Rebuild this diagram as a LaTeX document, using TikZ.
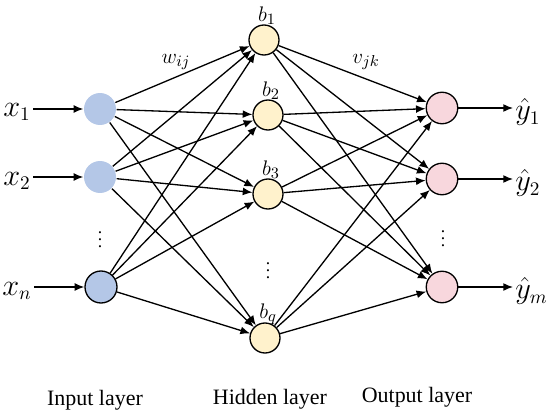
\documentclass[tikz,border=0pt]{standalone}
\usepackage{fontspec}
\setmainfont{Liberation Serif}
\usetikzlibrary{arrows.meta}
\definecolor{inblue}{RGB}{180,199,231}
\definecolor{hidyellow}{RGB}{255,242,204}
\definecolor{outpink}{RGB}{248,215,221}

\begin{document}
\begin{tikzpicture}[x=0.02cm, y=-0.02cm, >={Latex[length=5.5pt,width=4.5pt]}, line width=0.75pt,
  inp/.style={circle, fill=inblue, minimum size=0.64cm, inner sep=0pt},
  hid/.style={circle, draw, fill=hidyellow, minimum size=0.6cm, inner sep=0pt},
  outp/.style={circle, draw, fill=outpink, minimum size=0.63cm, inner sep=0pt},
  biglbl/.style={inner sep=1pt, font=\fontsize{16}{19}\selectfont},
  smalllbl/.style={inner sep=0pt, font=\fontsize{12.5}{15}\selectfont},
  layerlbl/.style={font=\fontsize{12.5}{15}\selectfont}]
  \useasboundingbox (0,0) rectangle (550,415);
  % input layer
  \node[inp] (i1) at (100,109) {};
  \node[inp] (i2) at (100,177) {};
  \node[inp, draw] (i3) at (101,287) {};
  \node (idots) at (100,234) {$\vdots$};
  \foreach \i/\y/\t in {1/112/1,2/181/2,3/291/n} {
    \node[biglbl] (x\i) at (17,\y) {$x_{\t}$};
    \draw[->] (x\i.east |- i\i) -- (i\i);
  }
  % hidden layer
  \foreach \j/\x/\y/\t in {1/264/40/1,2/268/115/2,3/268/194/3,4/265/338/q} {
    \node[hid] (h\j) at (\x,\y) {};
    \node[smalllbl] (b\j) at (\x+3,\y-24) {$b_{\t}$};
  }
  \node (hdots) at (268,265) {$\vdots$};
  % output layer
  \node[outp] (o1) at (442,108) {};
  \node[outp] (o2) at (442,179) {};
  \node[outp] (o3) at (442,287) {};
  \node (odots) at (443,233) {$\vdots$};
  \foreach \k/\y/\t in {1/112/1,2/183/2,3/291/m} {
    \node[biglbl, anchor=west] (y\k) at (513,\y) {$\hat{y}_{\t}$};
    \draw[->] (o\k) -- (y\k.west |- o\k);
  }
  % weights
  \foreach \i in {1,2,3} \foreach \j in {1,...,4} \draw[->] (i\i) -- (h\j);
  \foreach \j in {1,...,4} \foreach \k in {1,2,3} \draw[->] (h\j) -- (o\k);
  \node[smalllbl] (w) at (176,62) {$w_{ij}$};
  \node[smalllbl] (v) at (366,62) {$v_{jk}$};
  % layer names
  \node[layerlbl] (linp) at (95,400) {Input layer};
  \node[layerlbl] (lhid) at (270,399) {Hidden layer};
  \node[layerlbl] (lout) at (417,397) {Output layer};
\end{tikzpicture}
\end{document}
